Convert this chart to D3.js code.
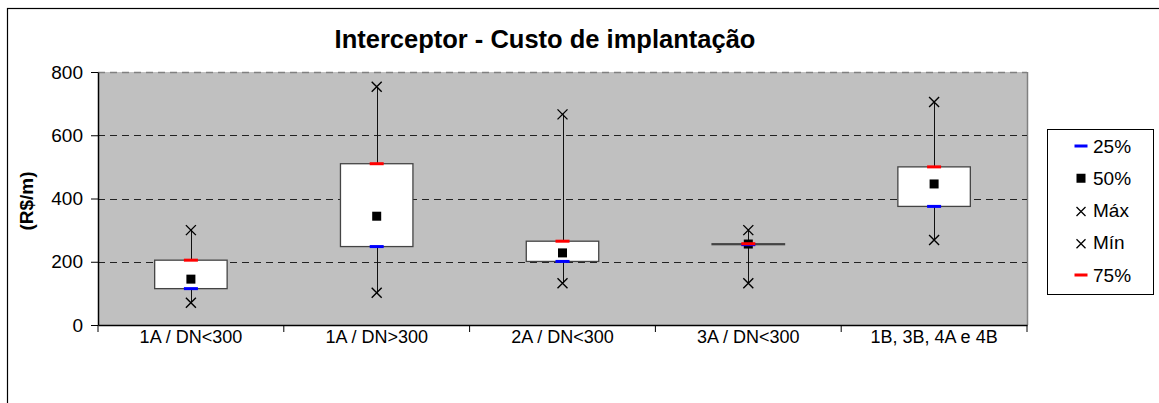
<!DOCTYPE html>
<html>
<head>
<meta charset="utf-8">
<script src="https://cdn.jsdelivr.net/npm/d3@7"></script>
<style>
  body { margin: 0; background: #fff; }
  text { font-family: Arial, "Liberation Sans", sans-serif; fill: #000; }
</style>
</head>
<body>
<div id="chart"></div>
<script>
// data
var categories = ["1A / DN<300", "1A / DN>300", "2A / DN<300", "3A / DN<300", "1B, 3B, 4A e 4B"];
var minVals = [70, 102, 132, 132, 269];
var q1Vals  = [115, 248, 201, 254, 375];
var medVals = [145, 344, 228, 256, 446];
var q3Vals  = [205, 510, 265, 257, 500];
var maxVals = [300, 753, 666, 300, 705];
var yTicks  = [0, 200, 400, 600, 800];
var legendItems = ["25%", "50%", "Máx", "Mín", "75%"];

var W = 1159, H = 403;
var plot = {left: 98, right: 1027, top: 72, bottom: 325};

var svg = d3.select("#chart")
  .append("svg")
    .attr("width", W)
    .attr("height", H);

// outer chart frame (runs off right and bottom edges)
svg.append("rect")
  .attr("x", 7.5).attr("y", 8.5)
  .attr("width", 1170).attr("height", 420)
  .attr("fill", "#fff")
  .attr("stroke", "#000")
  .attr("stroke-width", 1.2);

var x = d3.scaleBand()
  .domain(categories)
  .range([plot.left, plot.right])
  .padding(0);

var y = d3.scaleLinear()
  .domain([0, 800])
  .range([plot.bottom, plot.top]);

// plot background
svg.append("rect")
  .attr("x", plot.left).attr("y", plot.top)
  .attr("width", plot.right - plot.left)
  .attr("height", plot.bottom - plot.top)
  .attr("fill", "#c0c0c0");

// right border of plot
svg.append("line")
  .attr("x1", plot.right + 0.5).attr("x2", plot.right + 0.5)
  .attr("y1", plot.top).attr("y2", plot.bottom)
  .attr("stroke", "#808080").attr("stroke-width", 1.5);

// gridlines
svg.append("g")
  .selectAll("line")
  .data(yTicks.filter(function(d) { return d > 0; }))
  .enter().append("line")
    .attr("x1", plot.left).attr("x2", plot.right)
    .attr("y1", function(d) { return Math.round(y(d)) + 0.5; })
    .attr("y2", function(d) { return Math.round(y(d)) + 0.5; })
    .attr("stroke", function(d) { return d === 800 ? "#808080" : "#222"; })
    .attr("stroke-width", function(d) { return d === 800 ? 1.5 : 1; })
    .attr("stroke-dasharray", "7,5");

// Y axis
var yAxis = svg.append("g")
  .attr("transform", "translate(" + plot.left + ",0)")
  .call(d3.axisLeft(y).tickValues(yTicks).tickSize(7).tickSizeOuter(0).tickPadding(8));
yAxis.select(".domain").attr("stroke", "#000").attr("stroke-width", 1.5);
yAxis.selectAll(".tick line").attr("stroke", "#000");
yAxis.selectAll("text")
  .style("font-size", "19px")
  .attr("font-family", null);

// X axis
var xAxis = svg.append("g")
  .attr("transform", "translate(0," + plot.bottom + ")")
  .call(d3.axisBottom(x).tickSize(0).tickSizeOuter(0).tickPadding(5));
xAxis.select(".domain").attr("stroke", "#000").attr("stroke-width", 1.5);
xAxis.selectAll("text")
  .style("font-size", "18px")
  .attr("font-family", null);

// category separator ticks
var sepTicks = categories.map(function(c) { return x(c); }).concat([plot.right]);
svg.append("g")
  .selectAll("line")
  .data(sepTicks)
  .enter().append("line")
    .attr("x1", function(d) { return d; })
    .attr("x2", function(d) { return d; })
    .attr("y1", plot.bottom).attr("y2", plot.bottom + 7)
    .attr("stroke", "#000");

// box data
var boxes = categories.map(function(c, i) {
  return {cat: c, min: minVals[i], q1: q1Vals[i], med: medVals[i], q3: q3Vals[i], max: maxVals[i]};
});
var cx = function(d) { return x(d.cat) + x.bandwidth() / 2; };
var boxW = x.bandwidth() * 0.39;

var g = svg.append("g");

// whiskers (min to max)
g.selectAll(".whisker")
  .data(boxes)
  .enter().append("line")
    .attr("class", "whisker")
    .attr("x1", function(d) { return Math.round(cx(d)) + 0.5; })
    .attr("x2", function(d) { return Math.round(cx(d)) + 0.5; })
    .attr("y1", function(d) { return y(d.min); })
    .attr("y2", function(d) { return y(d.max); })
    .attr("stroke", "#111").attr("stroke-width", 1);

// boxes q1..q3
g.selectAll(".box")
  .data(boxes)
  .enter().append("rect")
    .attr("class", "box")
    .attr("x", function(d) { return cx(d) - boxW / 2; })
    .attr("y", function(d) { return y(d.q3); })
    .attr("width", boxW)
    .attr("height", function(d) { return Math.max(0, y(d.q1) - y(d.q3)); })
    .attr("fill", "#fff")
    .attr("stroke", "#444")
    .attr("stroke-width", 1.3);

// min / max crosses
var cross = function(sel, key) {
  sel.append("path")
    .attr("d", function(d) {
      var px = cx(d), py = y(d[key]), s = 5;
      return "M" + (px - s) + "," + (py - s) + "L" + (px + s) + "," + (py + s) +
             "M" + (px - s) + "," + (py + s) + "L" + (px + s) + "," + (py - s);
    })
    .attr("stroke", "#000").attr("stroke-width", 1.4).attr("fill", "none");
};
var markers = g.selectAll(".mk").data(boxes).enter().append("g").attr("class", "mk");
cross(markers, "max");
cross(markers, "min");

// median squares
markers.append("rect")
  .attr("x", function(d) { return cx(d) - 4.5; })
  .attr("y", function(d) { return y(d.med) - 4.5; })
  .attr("width", 9).attr("height", 9)
  .attr("fill", "#000");

// 25% blue dash, 75% red dash
markers.append("rect")
  .attr("x", function(d) { return cx(d) - 7; })
  .attr("y", function(d) { return y(d.q1) - 1.5; })
  .attr("width", 14).attr("height", 3)
  .attr("fill", "#0000ff");
markers.append("rect")
  .attr("x", function(d) { return cx(d) - 7; })
  .attr("y", function(d) { return y(d.q3) - 1.5; })
  .attr("width", 14).attr("height", 3)
  .attr("fill", "#ff0000");

// title
svg.append("text")
  .attr("x", 545).attr("y", 48)
  .attr("text-anchor", "middle")
  .style("font-size", "25.5px")
  .style("font-weight", "bold")
  .text("Interceptor - Custo de implantação");

// y axis label
svg.append("text")
  .attr("transform", "translate(33,201) rotate(-90)")
  .attr("text-anchor", "middle")
  .style("font-size", "19px")
  .style("font-weight", "bold")
  .text("(R$/m)");

// legend
var leg = svg.append("g");
leg.append("rect")
  .attr("x", 1047.5).attr("y", 129.5)
  .attr("width", 106).attr("height", 165)
  .attr("fill", "#fff").attr("stroke", "#000");

var legY = d3.scalePoint().domain(legendItems).range([146, 275]);
legendItems.forEach(function(item, i) {
  var yy = legY(item);
  var mx = 1081;
  if (item === "25%" || item === "75%") {
    leg.append("rect")
      .attr("x", mx - 6.5).attr("y", yy - 1.5)
      .attr("width", 13).attr("height", 3)
      .attr("fill", item === "25%" ? "#0000ff" : "#ff0000");
  } else if (item === "50%") {
    leg.append("rect")
      .attr("x", mx - 4.5).attr("y", yy - 4.5)
      .attr("width", 9).attr("height", 9)
      .attr("fill", "#000");
  } else {
    var s = 4.5;
    leg.append("path")
      .attr("d", "M" + (mx - s) + "," + (yy - s + 1) + "L" + (mx + s) + "," + (yy + s + 1) +
                 "M" + (mx - s) + "," + (yy + s + 1) + "L" + (mx + s) + "," + (yy - s + 1))
      .attr("stroke", "#000").attr("stroke-width", 1.3);
  }
  leg.append("text")
    .attr("x", 1093).attr("y", yy)
    .attr("dy", "0.35em")
    .style("font-size", "19px")
    .text(item);
});
</script>
</body>
</html>
